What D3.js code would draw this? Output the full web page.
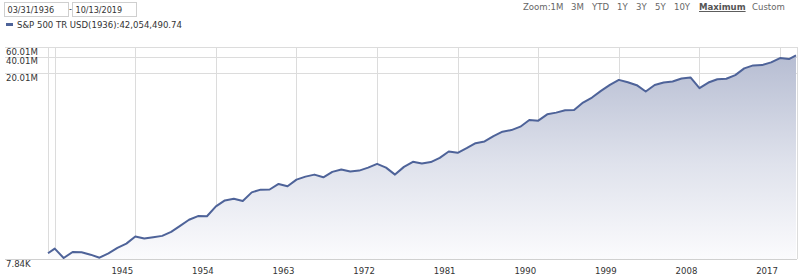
<!DOCTYPE html>
<html>
<head>
<meta charset="utf-8">
<script src="https://cdn.jsdelivr.net/npm/d3@7"></script>
<style>
  body { margin: 0; background: #fff; }
  svg text { font-family: "DejaVu Sans Condensed", "DejaVu Sans", sans-serif; }
</style>
</head>
<body>
<div id="chart"></div>
<script>
// series: start date, one point per year end, end date
var startDate = "1936-03-31";
var endDate = "2019-10-13";
var yearEnds = d3.range(1936, 2019); // 1936 .. 2018
var values = [
  10000,
  12130, 8180, 10550, 10420, 9410, 8280, 9980, 12500, 15000, 20180,
  18540, 19680, 20790, 24630, 31770, 40980, 47920, 47500, 72000, 92900,
  99800, 90600, 130400, 146200, 147000, 186100, 168200, 223400, 253200, 275700,
  245900, 309100, 340800, 313100, 326600, 370800, 433800, 370000, 275700, 382000,
  472200, 439400, 468000, 559500, 730700, 691500, 840400, 1038800, 1116400, 1397900,
  1684000, 1802000, 2081500, 2753400, 2684000, 3504000, 3765600, 4151000, 4200000, 5754000,
  7110000, 9408000, 12140000, 14980000, 13590000, 11990000, 9175000, 12100000, 13430000, 14000000,
  15900000, 16600000, 10550000, 13400000, 15430000, 15700000, 18300000, 24310000, 27600000, 27950000,
  31350000, 37620000, 36000000,
  42054490.74
];
var yTicks = [7840, 20010000, 40010000, 60010000];
var yTickLabels = ["7.84K", "20.01M", "40.01M", "60.01M"];
var gridYears = [1936, 1945, 1954, 1963, 1972, 1981, 1990, 1999, 2008, 2017];
var labelYears = [1945, 1954, 1963, 1972, 1981, 1990, 1999, 2008, 2017];
var zoomItems = ["Zoom:1M", "3M", "YTD", "1Y", "3Y", "5Y", "10Y", "Maximum", "Custom"];
var zoomX = [523, 571, 592, 617, 636, 655, 674, 699, 752];
var seriesName = "S&P 500 TR USD(1936):42,054,490.74";

var width = 800, height = 277;
var plotLeft = 48, plotRight = 796, plotTop = 47, plotBottom = 259;
var lineColor = "#4e6399";

var parse = d3.timeParse("%Y-%m-%d");
var dates = [parse(startDate)]
  .concat(yearEnds.map(function(y) { return new Date(y, 11, 31); }))
  .concat([parse(endDate)]);
var data = dates.map(function(d, i) { return {date: d, value: values[i]}; });

var svg = d3.select("#chart").append("svg")
  .attr("width", width)
  .attr("height", height);

var x = d3.scaleTime()
  .domain([dates[0], dates[dates.length - 1]])
  .range([plotLeft, plotRight]);

var y = d3.scaleLog()
  .domain([7840, 60010000])
  .range([plotBottom, plotTop]);

// gradient for area
var grad = svg.append("defs").append("linearGradient")
  .attr("id", "fade")
  .attr("gradientUnits", "userSpaceOnUse")
  .attr("x1", 0).attr("x2", 0)
  .attr("y1", plotTop).attr("y2", plotBottom);
grad.append("stop").attr("offset", "0%").attr("stop-color", "#b3bad0");
grad.append("stop").attr("offset", "55%").attr("stop-color", "#dfe2ec");
grad.append("stop").attr("offset", "100%").attr("stop-color", "#fbfbfd");

// horizontal grid
svg.selectAll(".hgrid")
  .data(yTicks.slice(1))
  .enter().append("line")
    .attr("x1", 5).attr("x2", plotRight + 1)
    .attr("y1", function(d) { return Math.round(y(d)) + 0.5; })
    .attr("y2", function(d) { return Math.round(y(d)) + 0.5; })
    .attr("stroke", "#dcdcdc");

// vertical grid
svg.selectAll(".vgrid")
  .data(gridYears)
  .enter().append("line")
    .attr("x1", function(d) { return Math.round(x(new Date(d, 11, 31))) + 0.5; })
    .attr("x2", function(d) { return Math.round(x(new Date(d, 11, 31))) + 0.5; })
    .attr("y1", plotTop).attr("y2", plotBottom)
    .attr("stroke", "#dcdcdc");

// plot border left/right
[plotLeft, plotRight + 1].forEach(function(px) {
  svg.append("line")
    .attr("x1", px + 0.5).attr("x2", px + 0.5)
    .attr("y1", plotTop).attr("y2", plotBottom)
    .attr("stroke", "#dcdcdc");
});

// area + line
svg.append("path")
  .datum(data)
  .attr("fill", "url(#fade)")
  .attr("d", d3.area()
    .x(function(d) { return x(d.date); })
    .y0(plotBottom)
    .y1(function(d) { return y(d.value); }));

svg.append("path")
  .datum(data)
  .attr("fill", "none")
  .attr("stroke", lineColor)
  .attr("stroke-width", 2)
  .attr("stroke-linejoin", "round")
  .attr("d", d3.line()
    .x(function(d) { return x(d.date); })
    .y(function(d) { return y(d.value); }));

// bottom axis line
svg.append("line")
  .attr("x1", 5).attr("x2", plotRight + 1)
  .attr("y1", plotBottom + 0.5).attr("y2", plotBottom + 0.5)
  .attr("stroke", "#d0d0d0");

// y labels hang under their grid line
svg.selectAll(".ylab")
  .data(yTicks)
  .enter().append("text")
    .attr("x", 6)
    .attr("y", function(d) { return y(d) + 7.5; })
    .attr("font-size", "9.5px")
    .attr("fill", "#333")
    .text(function(d, i) { return yTickLabels[i]; });

// x labels
svg.selectAll(".xlab")
  .data(labelYears)
  .enter().append("text")
    .attr("x", function(d) { return x(new Date(d, 11, 31)) - 13; })
    .attr("y", 274)
    .attr("text-anchor", "middle")
    .attr("font-size", "9.5px")
    .attr("fill", "#333")
    .text(function(d) { return d; });

// date inputs
[[4.5, "03/31/1936"], [72.5, "10/13/2019"]].forEach(function(b) {
  svg.append("rect")
    .attr("x", b[0]).attr("y", 2.5)
    .attr("width", 64).attr("height", 14)
    .attr("fill", "#fff").attr("stroke", "#cfcfcf");
  svg.append("text")
    .attr("x", b[0] + 3).attr("y", 13)
    .attr("font-size", "9px").attr("fill", "#333")
    .text(b[1]);
});
svg.append("text")
  .attr("x", 69).attr("y", 12)
  .attr("font-size", "9px").attr("fill", "#333")
  .text("-");

// legend
svg.append("line")
  .attr("x1", 6).attr("x2", 13)
  .attr("y1", 24.5).attr("y2", 24.5)
  .attr("stroke", lineColor).attr("stroke-width", 3);
svg.append("text")
  .attr("x", 17).attr("y", 28)
  .attr("font-size", "9.5px").attr("fill", "#333")
  .text(seriesName);

// zoom buttons
svg.selectAll(".zoom")
  .data(zoomItems)
  .enter().append("text")
    .attr("x", function(d, i) { return zoomX[i]; })
    .attr("y", 10)
    .attr("font-size", "9.5px")
    .attr("fill", function(d) { return d === "Maximum" ? "#555" : "#666"; })
    .attr("font-weight", function(d) { return d === "Maximum" ? "bold" : "normal"; })
    .attr("text-decoration", function(d) { return d === "Maximum" ? "underline" : "none"; })
    .text(function(d) { return d; });
</script>
</body>
</html>
